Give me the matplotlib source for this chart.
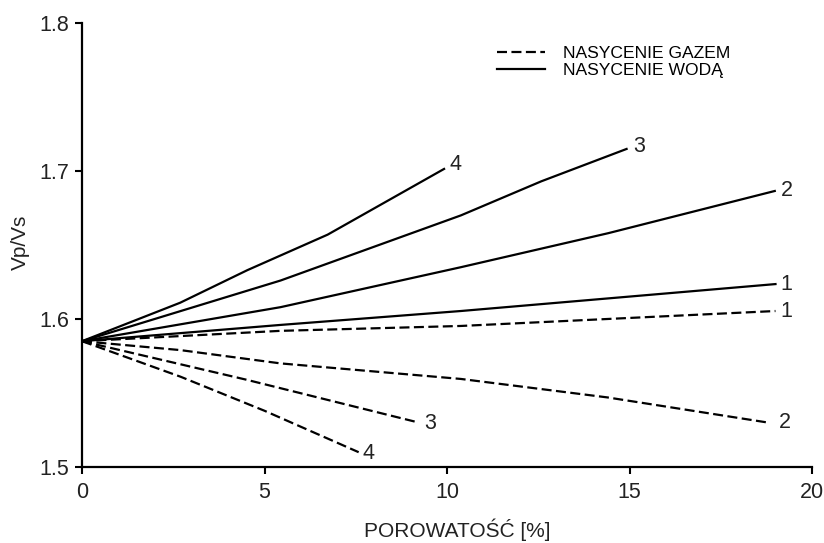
import matplotlib
matplotlib.use("Agg")
import matplotlib.pyplot as plt
from matplotlib.lines import Line2D

plt.rcParams['font.family'] = ['Liberation Sans', 'DejaVu Sans']

# --- data: gas saturation (dashed) ---
gas1_x = [0, 5.44, 10.38, 19.0]
gas1_y = [1.585, 1.592, 1.5953, 1.6054]
gas2_x = [0, 2.69, 5.44, 10.38, 14.4, 18.8]
gas2_y = [1.585, 1.579, 1.570, 1.5595, 1.547, 1.530]
gas3_x = [0, 4.5, 9.23]
gas3_y = [1.585, 1.559, 1.530]
gas4_x = [0, 2.7, 5.0, 7.58]
gas4_y = [1.585, 1.561, 1.538, 1.510]

# --- data: water saturation (solid) ---
wat1_x = [0, 5.44, 10.38, 19.0]
wat1_y = [1.585, 1.596, 1.6054, 1.6236]
wat2_x = [0, 5.44, 10.38, 14.42, 18.98]
wat2_y = [1.585, 1.608, 1.635, 1.658, 1.6865]
wat3_x = [0, 5.44, 10.38, 12.58, 14.92]
wat3_y = [1.585, 1.626, 1.670, 1.693, 1.7149]
wat4_x = [0, 2.69, 4.53, 6.73, 9.92]
wat4_y = [1.585, 1.611, 1.633, 1.657, 1.7014]

curve_labels = ['1', '2', '3', '4']
x_ticks = [0, 5, 10, 15, 20]
y_ticks = [1.5, 1.6, 1.7, 1.8]
x_label = 'POROWATOŚĆ [%]'
y_label = 'Vp/Vs'
legend_labels = ['NASYCENIE GAZEM', 'NASYCENIE WODĄ']

fig = plt.figure(figsize=(8.24, 5.43), dpi=100)
ax = fig.add_axes([82/824, 1-467/543, (812-82)/824, (467-23)/543])

lw = 1.6
dash = (4.5, 2.0)
txt_col = '#222222'
gas = [(gas1_x, gas1_y), (gas2_x, gas2_y), (gas3_x, gas3_y), (gas4_x, gas4_y)]
wat = [(wat1_x, wat1_y), (wat2_x, wat2_y), (wat3_x, wat3_y), (wat4_x, wat4_y)]

# label offsets (points) per curve
gas_off = [(8, 0), (12, 0), (8, -1), (7, -1)]
wat_off = [(8, 0), (9, 0), (9, 2), (8, 3)]

for (xs, ys), lab, off in zip(gas, curve_labels, gas_off):
    ax.plot(xs, ys, color='black', lw=lw, linestyle=(0, dash), solid_capstyle='butt')
    ax.annotate(lab, xy=(xs[-1], ys[-1]), xytext=off, textcoords='offset points',
                ha='center', va='center', fontsize=15.5, color=txt_col)
for (xs, ys), lab, off in zip(wat, curve_labels, wat_off):
    ax.plot(xs, ys, color='black', lw=lw, linestyle='-')
    ax.annotate(lab, xy=(xs[-1], ys[-1]), xytext=off, textcoords='offset points',
                ha='center', va='center', fontsize=15.5, color=txt_col)

ax.set_xlim(0, 20)
ax.set_ylim(1.5, 1.8)
ax.set_xticks(x_ticks)
ax.set_yticks(y_ticks)
ax.set_xticklabels([str(v) for v in x_ticks])
ax.set_yticklabels([f'{v:.1f}' for v in y_ticks])
ax.spines['top'].set_visible(False)
ax.spines['right'].set_visible(False)
for s in ('left', 'bottom'):
    ax.spines[s].set_linewidth(1.6)
ax.tick_params(direction='out', length=5, width=1.5, labelsize=15.5,
               labelcolor=txt_col, pad=4)
ax.tick_params(axis='x', pad=6)

fig.text(457/824, 1-537/543, x_label, ha='center', va='baseline', fontsize=15,
         color=txt_col)
fig.text(20/824, 1-242/543, y_label, ha='center', va='center', rotation=90,
         fontsize=15, color=txt_col)

handles = [Line2D([], [], color='black', lw=lw, linestyle=(0, dash)),
           Line2D([], [], color='black', lw=lw, linestyle='-')]
fig.legend(handles, legend_labels, loc='upper left',
           bbox_to_anchor=(497/824, 1-46/543), frameon=False, fontsize=12.6,
           handlelength=2.75, handletextpad=1.0, labelspacing=0.1,
           borderpad=0, borderaxespad=0)

fig.savefig('out.png', dpi=100)
